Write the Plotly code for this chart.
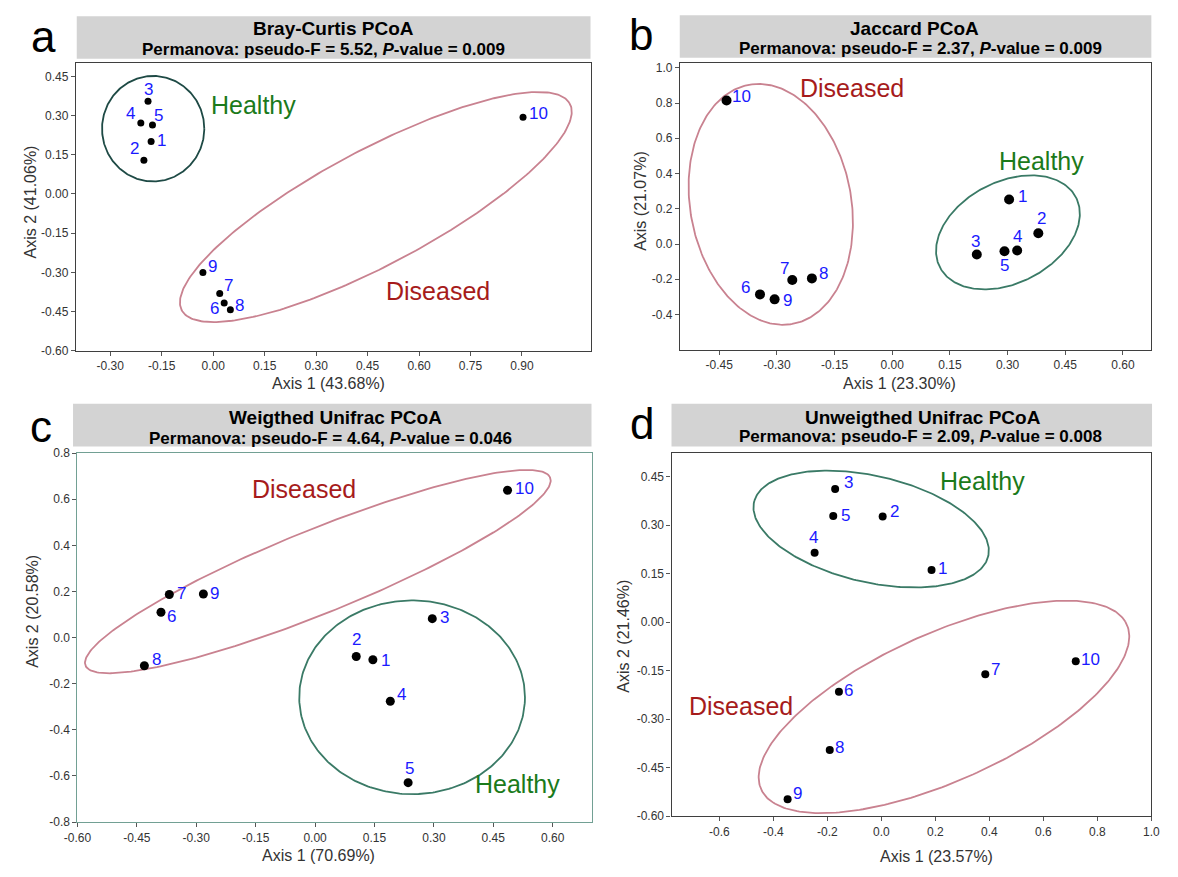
import numpy as np
import plotly.graph_objects as go

W, H = 1178, 877
FONT = "Liberation Sans, Arial, sans-serif"

sample_ids = ["1", "2", "3", "4", "5", "6", "7", "8", "9", "10"]

# ---- Panel a: Bray-Curtis ----
bc_x = [-0.181, -0.202, -0.190, -0.211, -0.177, 0.032, 0.019, 0.050, -0.030, 0.903]
bc_y = [0.201, 0.129, 0.355, 0.272, 0.264, -0.417, -0.381, -0.443, -0.301, 0.294]
# ---- Panel b: Jaccard ----
jac_x = [0.304, 0.380, 0.220, 0.325, 0.292, -0.344, -0.260, -0.209, -0.306, -0.431]
jac_y = [0.253, 0.061, -0.060, -0.037, -0.041, -0.286, -0.204, -0.195, -0.314, 0.814]
# ---- Panel c: Weighted Unifrac ----
wu_x = [0.146, 0.104, 0.296, 0.190, 0.235, -0.389, -0.368, -0.431, -0.282, 0.486]
wu_y = [-0.096, -0.082, 0.082, -0.276, -0.629, 0.110, 0.187, -0.122, 0.189, 0.639]
# ---- Panel d: Unweighted Unifrac ----
uu_x = [0.186, 0.005, -0.171, -0.247, -0.178, -0.157, 0.385, -0.191, -0.347, 0.720]
uu_y = [0.161, 0.327, 0.412, 0.215, 0.328, -0.215, -0.161, -0.395, -0.548, -0.121]

# group ellipses: centre, conjugate semi-diameters U and V (data units)
ell_a_healthy = dict(c=(-0.175, 0.25), u=(0.149, 0.0), v=(0.0, 0.202))
ell_a_diseased = dict(c=(0.474, -0.050), u=(0.563, 0.401), v=(0.0953, -0.182))
ell_b_diseased = dict(c=(-0.316, 0.225), u=(-0.0492, 0.681), v=(0.208, 0.0569))
ell_b_healthy = dict(c=(0.301, 0.066), u=(0.168, 0.229), v=(0.0823, -0.2285))
ell_c_diseased = dict(c=(0.007, 0.286), u=(0.586, 0.410), v=(0.0485, -0.162))
ell_c_healthy = dict(c=(0.245, -0.259), u=(0.285, 0.0), v=(0.0, 0.420))
ell_d_healthy = dict(c=(-0.0376, 0.288), u=(-0.432, 0.0887), v=(0.0583, 0.1575))
ell_d_diseased = dict(c=(0.232, -0.262), u=(0.672, 0.263), v=(0.139, -0.197))

titles = ["Bray-Curtis PCoA", "Jaccard PCoA", "Weigthed Unifrac PCoA", "Unweigthed Unifrac PCoA"]
pseudo_f = ["5.52", "2.37", "4.64", "2.09"]
p_values = ["0.009", "0.009", "0.046", "0.008"]
x_titles = ["Axis 1 (43.68%)", "Axis 1 (23.30%)", "Axis 1 (70.69%)", "Axis 1 (23.57%)"]
y_titles = ["Axis 2 (41.06%)", "Axis (21.07%)", "Axis 2 (20.58%)", "Axis 2 (21.46%)"]
letters = ["a", "b", "c", "d"]

a_xticks = [-0.30, -0.15, 0.00, 0.15, 0.30, 0.45, 0.60, 0.75, 0.90]
a_yticks = [-0.60, -0.45, -0.30, -0.15, 0.00, 0.15, 0.30, 0.45]
b_xticks = [-0.45, -0.30, -0.15, 0.00, 0.15, 0.30, 0.45, 0.60]
b_yticks = [-0.4, -0.2, 0.0, 0.2, 0.4, 0.6, 0.8, 1.0]
c_xticks = [-0.60, -0.45, -0.30, -0.15, 0.00, 0.15, 0.30, 0.45, 0.60]
c_yticks = [-0.8, -0.6, -0.4, -0.2, 0.0, 0.2, 0.4, 0.6, 0.8]
d_xticks = [-0.6, -0.4, -0.2, 0.0, 0.2, 0.4, 0.6, 0.8, 1.0]
d_yticks = [-0.60, -0.45, -0.30, -0.15, 0.00, 0.15, 0.30, 0.45]

# group label anchor points (data units)
grp_a = {"Healthy": (0.118, 0.339), "Diseased": (0.656, -0.370)}
grp_b = {"Healthy": (0.389, 0.470), "Diseased": (-0.105, 0.888)}
grp_c = {"Healthy": (0.510, -0.636), "Diseased": (-0.027, 0.643)}
grp_d = {"Healthy": (0.374, 0.437), "Diseased": (-0.518, -0.260)}

# ---------------- styling / layout ----------------
# label offsets (px) for sample numbers
off_a = [(10, 1), (-9, 12), (0, 12), (-10, 9), (6, 10), (-10, -6), (9, 8), (9, 4), (10, 6), (15, 4)]
off_b = [(13, 3), (3, 15), (-1, 13), (0, 14), (0, -14), (-14, 7), (-8, 11), (12, 5), (13, -1), (15, 4)]
off_c = [(13, -1), (0, 17), (12, 1), (11, 7), (1, 14), (11, -4), (12, 1), (12, 6), (11, 0), (17, 2)]
off_d = [(11, 2), (12, 5), (13, 6), (-1, 15), (12, 1), (10, 1), (10, 5), (10, 2), (10, 6), (15, 2)]

# plot boxes in pixels: (left, right, top, bottom)
boxes = [(63.2, 588.1, 57.3, 349.3), (679.3, 1159.2, 57.3, 348.3),
         (64.7, 589.0, 453.3, 828.3), (670.6, 1160.0, 453.3, 822.3)]
ranges = [([-0.4, 1.1], [-0.6, 0.5]), ([-0.552, 0.672], [-0.6, 1.025]),
          ([-0.6, 0.698], [-0.8, 0.8]), ([-0.777, 1.0], [-0.6, 0.523])]
title_boxes = [(64, 588, 9.3, 52.7), (679, 1160, 8.3, 51.7),
               (60.2, 589, 403.3, 446.7), (670.6, 1160.7, 403.3, 446.7)]
title_pos = [(325.5, 21.7, 316, 42.7), (918, 22.3, 925, 42.3),
             (327.5, 417.3, 323, 439), (927.5, 417.3, 924.7, 436.7)]
xt_pos = [(321, 383), (903, 383), (311, 862), (941, 863)]
yt_pos = [(17, 198), (639, 197.5), (19, 614), (622, 639)]
let_pos = [(30, 30), (639, 28), (28, 426), (641, 423)]
marker_sizes = [7, 10, 9, 8]
border_cols = ["#3f3f3f", "#3f3f3f", "#72a094", "#3f3f3f"]
healthy_cols = ["#1e4a45", "#3a7a66", "#3a7a66", "#3a7a66"]
dis_col = "#c98290"
label_blue = "#1a1aff"
green_txt = "#1b7a1b"
red_txt = "#a61b1b"


def px(x):
    return x / W


def py(y):
    return 1 - y / H


def fmt(vals, nd):
    return [f"{v:.{nd}f}" for v in vals]


def paper_text(x, y, text, size, color, angle=0):
    return dict(x=px(x), y=py(y), xref="paper", yref="paper", showarrow=False,
                xanchor="center", yanchor="middle", text=text, textangle=angle,
                font=dict(family=FONT, size=size, color=color))


panels = [
    (bc_x, bc_y, a_xticks, a_yticks, 2, 2, [ell_a_healthy, ell_a_diseased], grp_a, off_a),
    (jac_x, jac_y, b_xticks, b_yticks, 2, 1, [ell_b_healthy, ell_b_diseased], grp_b, off_b),
    (wu_x, wu_y, c_xticks, c_yticks, 2, 1, [ell_c_healthy, ell_c_diseased], grp_c, off_c),
    (uu_x, uu_y, d_xticks, d_yticks, 1, 2, [ell_d_healthy, ell_d_diseased], grp_d, off_d),
]

fig = go.Figure()
annotations = []
shapes = []
t = np.linspace(0, 2 * np.pi, 300)

for i, (xs, ys, xt, yt, xnd, ynd, ells, grp, offs) in enumerate(panels):
    k = "" if i == 0 else str(i + 1)
    xa, ya = "x" + k, "y" + k
    for j, e in enumerate(ells):
        ex = e["c"][0] + e["u"][0] * np.cos(t) + e["v"][0] * np.sin(t)
        ey = e["c"][1] + e["u"][1] * np.cos(t) + e["v"][1] * np.sin(t)
        col = healthy_cols[i] if j == 0 else dis_col
        fig.add_trace(go.Scatter(x=ex, y=ey, mode="lines", xaxis=xa, yaxis=ya,
                                 line=dict(color=col, width=1.8), hoverinfo="skip",
                                 showlegend=False))
    fig.add_trace(go.Scatter(x=xs, y=ys, mode="markers", xaxis=xa, yaxis=ya,
                             marker=dict(color="black", size=marker_sizes[i]),
                             showlegend=False))
    for sid, x, y, (dx, dy) in zip(sample_ids, xs, ys, offs):
        annotations.append(dict(x=x, y=y, xref=xa, yref=ya, text=sid, showarrow=False,
                                xanchor="center", yanchor="middle",
                                xshift=dx, yshift=dy,
                                font=dict(family=FONT, size=17, color=label_blue)))
    for name, (gx, gy) in grp.items():
        annotations.append(dict(x=gx, y=gy, xref=xa, yref=ya, text=name, showarrow=False,
                                xanchor="center", yanchor="middle",
                                font=dict(family=FONT, size=25,
                                          color=green_txt if name == "Healthy" else red_txt)))
    l, r, tp, b = boxes[i]
    axcommon = dict(showgrid=False, zeroline=False, showline=True, mirror=True,
                    linecolor=border_cols[i], linewidth=1.2, ticks="outside", ticklen=4,
                    tickcolor="#555", tickfont=dict(family=FONT, size=12, color="#333"))
    fig.update_layout(**{
        "xaxis" + k: dict(domain=[px(l), px(r)], range=ranges[i][0], anchor=ya,
                          tickvals=xt, ticktext=fmt(xt, xnd), **axcommon),
        "yaxis" + k: dict(domain=[py(b), py(tp)], range=ranges[i][1], anchor=xa,
                          tickvals=yt, ticktext=fmt(yt, ynd), **axcommon),
    })
    tl, tr, tt, tb = title_boxes[i]
    shapes.append(dict(type="rect", xref="paper", yref="paper", x0=px(tl), x1=px(tr),
                       y0=py(tb), y1=py(tt), fillcolor="#d3d3d3", line=dict(width=0),
                       layer="below"))
    tx, ty, sx, sy = title_pos[i]
    annotations.append(paper_text(tx, ty, f"<b>{titles[i]}</b>", 19, "black"))
    annotations.append(paper_text(
        sx, sy, f"<b>Permanova: pseudo-F = {pseudo_f[i]}, <i>P</i>-value = {p_values[i]}</b>",
        17, "black"))
    annotations.append(paper_text(xt_pos[i][0], xt_pos[i][1], x_titles[i], 16, "#333"))
    annotations.append(paper_text(yt_pos[i][0], yt_pos[i][1], y_titles[i], 16, "#333", -90))
    annotations.append(paper_text(let_pos[i][0], let_pos[i][1], letters[i], 44, "black"))

fig.update_layout(width=W, height=H, margin=dict(l=0, r=0, t=0, b=0),
                  paper_bgcolor="white", plot_bgcolor="white",
                  annotations=annotations, shapes=shapes, showlegend=False)
fig.write_html("out.html")
